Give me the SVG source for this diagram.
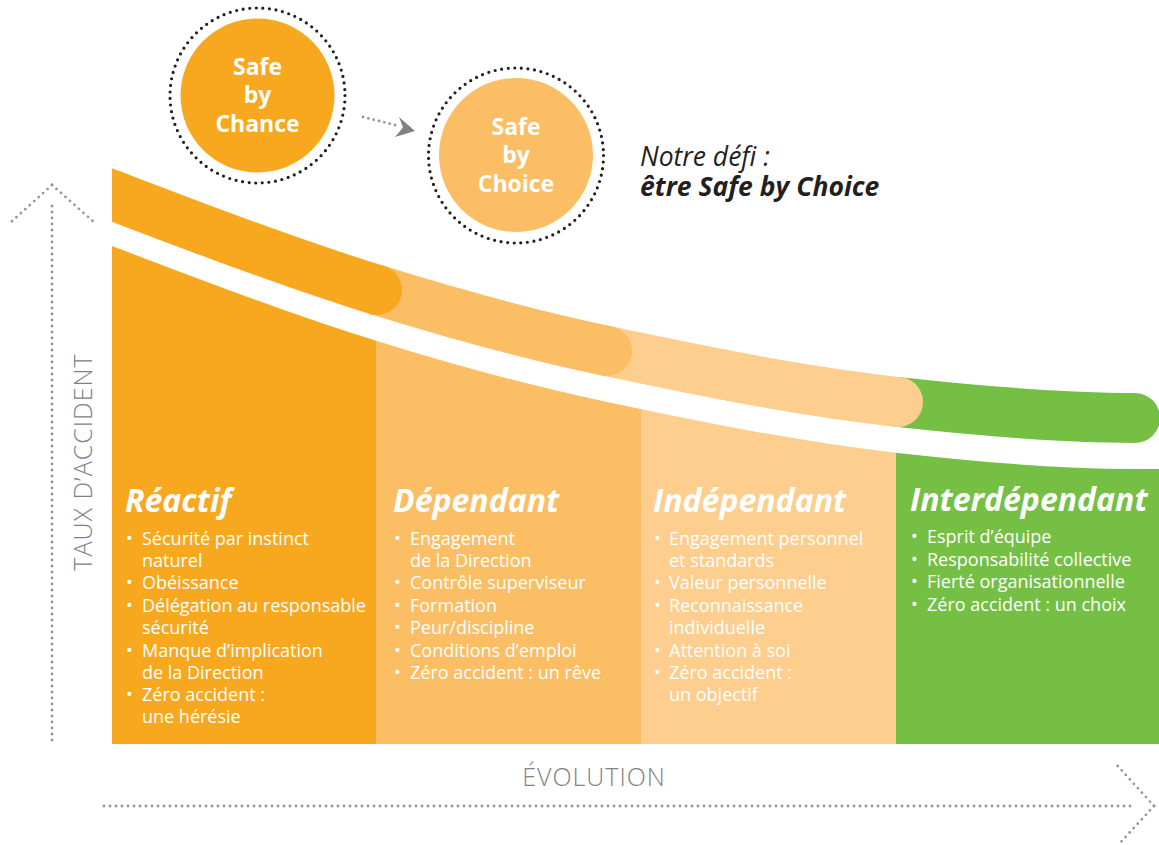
<svg xmlns="http://www.w3.org/2000/svg" width="1159" height="845" viewBox="0 0 1159 845">
<style>
.ff{font-family:"Open Sans","Noto Sans","Liberation Sans",sans-serif}
.ctitle{font-family:"Open Sans","Noto Sans","Liberation Sans",sans-serif;font-weight:700;font-style:italic;font-size:32px;fill:#fff}
.bul{font-family:"Open Sans","Noto Sans","Liberation Sans",sans-serif;font-size:18px;fill:#fff}
.ctext{font-family:"Open Sans","Noto Sans","Liberation Sans",sans-serif;font-weight:700;font-size:23px;fill:#fff;text-anchor:middle}
.ring{fill:none;stroke:#231F20;stroke-width:3.2;stroke-linecap:round;stroke-dasharray:0 6.62}
.dots{fill:none;stroke:#939598;stroke-width:2.8;stroke-linecap:round;stroke-dasharray:0 6}
.axis{font-family:"Open Sans","Noto Sans","Liberation Sans",sans-serif;font-weight:300;font-size:25px;fill:#808285;letter-spacing:1px}
.band{fill:none;stroke-width:50;stroke-linecap:round}
</style>
<defs>
<clipPath id="colclip">
<path d="M112,246 C200.3,279.6 288.7,313.6 377,341 C453.7,364.8 530.3,385.9 607,402 C704,422.4 801,442.3 898,453 C977,461.7 1056,469 1135,469 L1159,469 L1159,744 L112,744 Z"/>
</clipPath>
<clipPath id="bandclip"><rect x="112" y="0" width="1047" height="845"/></clipPath>
</defs>

<g id="columns-bg" clip-path="url(#colclip)">
<rect x="112" y="200" width="264.5" height="544" fill="#F8A81E"/>
<rect x="376" y="200" width="265.5" height="544" fill="#FBBE64"/>
<rect x="641" y="200" width="255.5" height="544" fill="#FDCE8E"/>
<rect x="896" y="200" width="263" height="544" fill="#74BF44"/>
</g>

<g id="curve-band" clip-path="url(#bandclip)">
<path class="band" stroke="#74BF44" d="M898,402 C977,410.7 1056,418 1135,418"/>
<path class="band" stroke="#FDCE8E" d="M607,351 C704,371.4 801,391.3 898,402"/>
<path class="band" stroke="#FBBE64" d="M377,290 C453.7,313.8 530.3,334.9 607,351"/>
<path class="band" stroke="#F8A81E" d="M80,183 L112,195 C200.3,228.6 288.7,262.6 377,290"/>
</g>

<g id="axes">
<path class="dots" d="M52,206 L52,745"/>
<path class="dots" d="M52,185 L10,223"/>
<path class="dots" d="M52,185 L95,223"/>
<path class="dots" d="M104,806 L1131,806"/>
<path class="dots" d="M1154,806 L1115,763"/>
<path class="dots" d="M1154,806 L1120,843"/>
<text class="axis" x="594" y="786" text-anchor="middle">ÉVOLUTION</text>
<text class="axis" transform="translate(92,462) rotate(-90)" x="0" y="0" text-anchor="middle">TAUX D’ACCIDENT</text>
</g>

<g id="safe-by-chance">
<circle cx="257.5" cy="95.5" r="77" fill="#F8A81E"/>
<circle class="ring" cx="257.5" cy="95.5" r="87.5"/>
<text class="ctext" x="257.5" y="75">Safe</text>
<text class="ctext" x="257.5" y="103">by</text>
<text class="ctext" x="257.5" y="132">Chance</text>
</g>

<g id="safe-by-choice">
<circle cx="516" cy="155" r="77" fill="#FBBE64"/>
<circle class="ring" cx="516" cy="155.5" r="87.5"/>
<text class="ctext" x="516" y="135">Safe</text>
<text class="ctext" x="516" y="163">by</text>
<text class="ctext" x="516" y="192">Choice</text>
</g>

<g id="connectors">
<path d="M363,117 L399,126" fill="none" stroke="#939598" stroke-width="2.8" stroke-linecap="round" stroke-dasharray="0 5.5"/>
<polygon points="415,131 399,117 403,127.5 395,137" fill="#808285"/>
</g>

<g id="defi">
<text class="ff" x="640" y="166" font-size="26.5" font-style="italic" fill="#231F20">Notre défi :</text>
<text class="ff" x="640" y="196" font-size="26.5" font-style="italic" font-weight="700" fill="#231F20">être Safe by Choice</text>
</g>

<g id="reactif">
<text class="ctitle" x="125" y="512">Réactif</text>
<text class="bul">
<tspan x="126" y="545">•</tspan><tspan x="142" y="545">Sécurité par instinct</tspan>
<tspan x="142" y="567">naturel</tspan>
<tspan x="126" y="589">•</tspan><tspan x="142" y="589">Obéissance</tspan>
<tspan x="126" y="612">•</tspan><tspan x="142" y="612">Délégation au responsable</tspan>
<tspan x="142" y="634">sécurité</tspan>
<tspan x="126" y="657">•</tspan><tspan x="142" y="657">Manque d’implication</tspan>
<tspan x="142" y="679">de la Direction</tspan>
<tspan x="126" y="701">•</tspan><tspan x="142" y="701">Zéro accident :</tspan>
<tspan x="142" y="723">une hérésie</tspan>
</text>
</g>

<g id="dependant">
<text class="ctitle" x="393" y="512">Dépendant</text>
<text class="bul">
<tspan x="394" y="545">•</tspan><tspan x="410" y="545">Engagement</tspan>
<tspan x="410" y="567">de la Direction</tspan>
<tspan x="394" y="589">•</tspan><tspan x="410" y="589">Contrôle superviseur</tspan>
<tspan x="394" y="612">•</tspan><tspan x="410" y="612">Formation</tspan>
<tspan x="394" y="634">•</tspan><tspan x="410" y="634">Peur/discipline</tspan>
<tspan x="394" y="657">•</tspan><tspan x="410" y="657">Conditions d’emploi</tspan>
<tspan x="394" y="679">•</tspan><tspan x="410" y="679">Zéro accident : un rêve</tspan>
</text>
</g>

<g id="independant">
<text class="ctitle" x="653" y="512">Indépendant</text>
<text class="bul">
<tspan x="654" y="545">•</tspan><tspan x="669" y="545">Engagement personnel</tspan>
<tspan x="669" y="567">et standards</tspan>
<tspan x="654" y="589">•</tspan><tspan x="669" y="589">Valeur personnelle</tspan>
<tspan x="654" y="612">•</tspan><tspan x="669" y="612">Reconnaissance</tspan>
<tspan x="669" y="634">individuelle</tspan>
<tspan x="654" y="657">•</tspan><tspan x="669" y="657">Attention à soi</tspan>
<tspan x="654" y="679">•</tspan><tspan x="669" y="679">Zéro accident :</tspan>
<tspan x="669" y="701">un objectif</tspan>
</text>
</g>

<g id="interdependant">
<text class="ctitle" x="910" y="511">Interdépendant</text>
<text class="bul">
<tspan x="911" y="543">•</tspan><tspan x="927" y="543">Esprit d’équipe</tspan>
<tspan x="911" y="566">•</tspan><tspan x="927" y="566">Responsabilité collective</tspan>
<tspan x="911" y="588">•</tspan><tspan x="927" y="588">Fierté organisationnelle</tspan>
<tspan x="911" y="611">•</tspan><tspan x="927" y="611">Zéro accident : un choix</tspan>
</text>
</g>
</svg>
